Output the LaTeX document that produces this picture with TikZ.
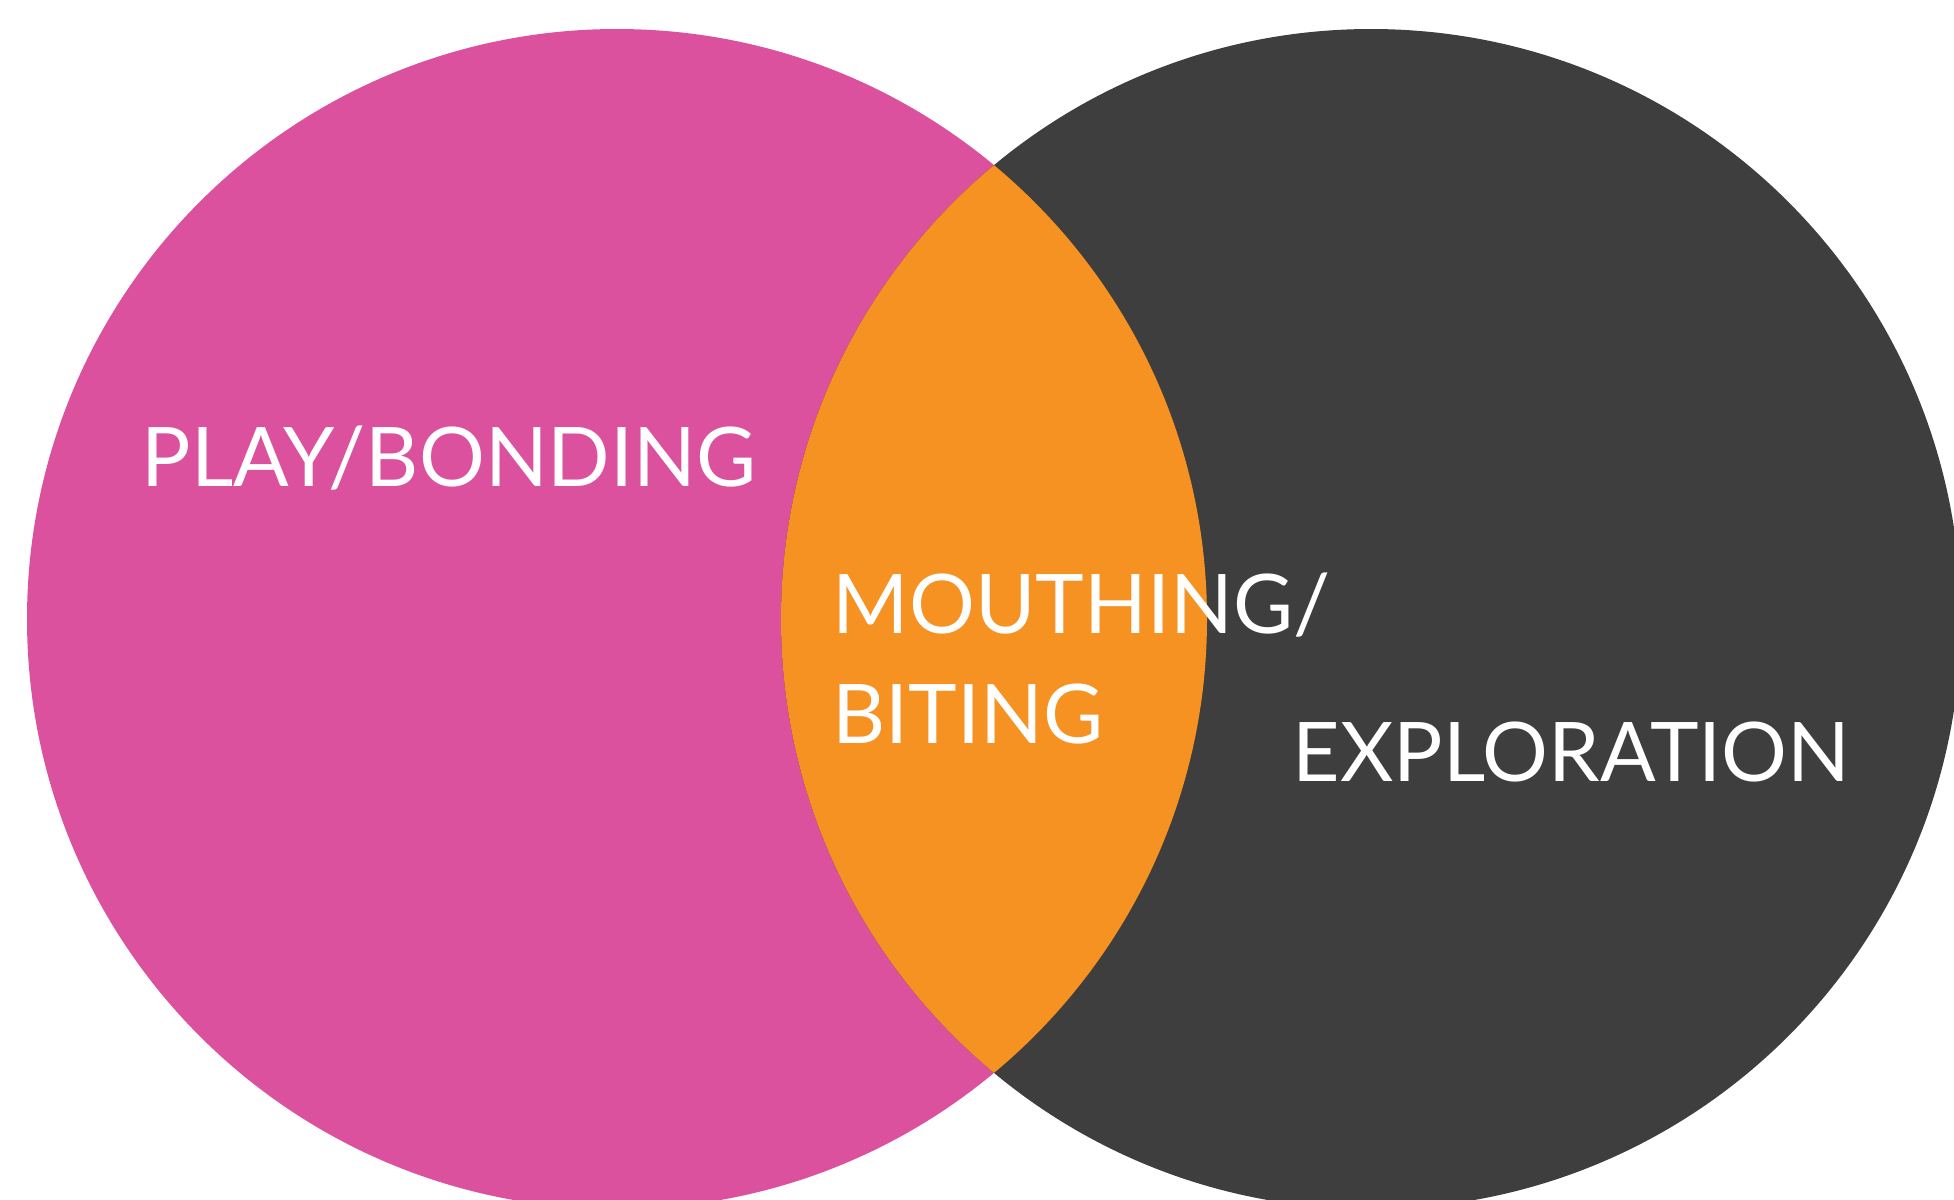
\documentclass[tikz,border=0pt]{standalone}
\usepackage{fontspec}
\setmainfont{Lato}
\definecolor{playpink}{HTML}{DB519E}
\definecolor{exploregray}{HTML}{3E3E3E}
\definecolor{mouthorange}{HTML}{F59222}
\tikzset{
  label/.style={text=white, inner sep=0pt, anchor=base west,
    font=\fontsize{23.4}{28}\selectfont}
}

\begin{document}
\begin{tikzpicture}[x=0.01cm, y=-0.01cm]
    \useasboundingbox (0,0) rectangle (1954,1199);
    % the two circles
    \fill[playpink] (617,619) circle[radius=590];
    \fill[exploregray] (1371,619) circle[radius=590];
    % overlap
    \begin{scope}
      \clip (617,619) circle[radius=590];
      \fill[mouthorange] (1371,619) circle[radius=590];
    \end{scope}
    % labels
    \node[label] (play) at (141,486) {PLAY/BONDING};
    \node[label] (mouthing) at (832,633) {MOUTHING/};
    \node[label] (biting) at (832,743) {BITING};
    \node[label] (explore) at (1292,781) {EXPLORATION};
\end{tikzpicture}
\end{document}
